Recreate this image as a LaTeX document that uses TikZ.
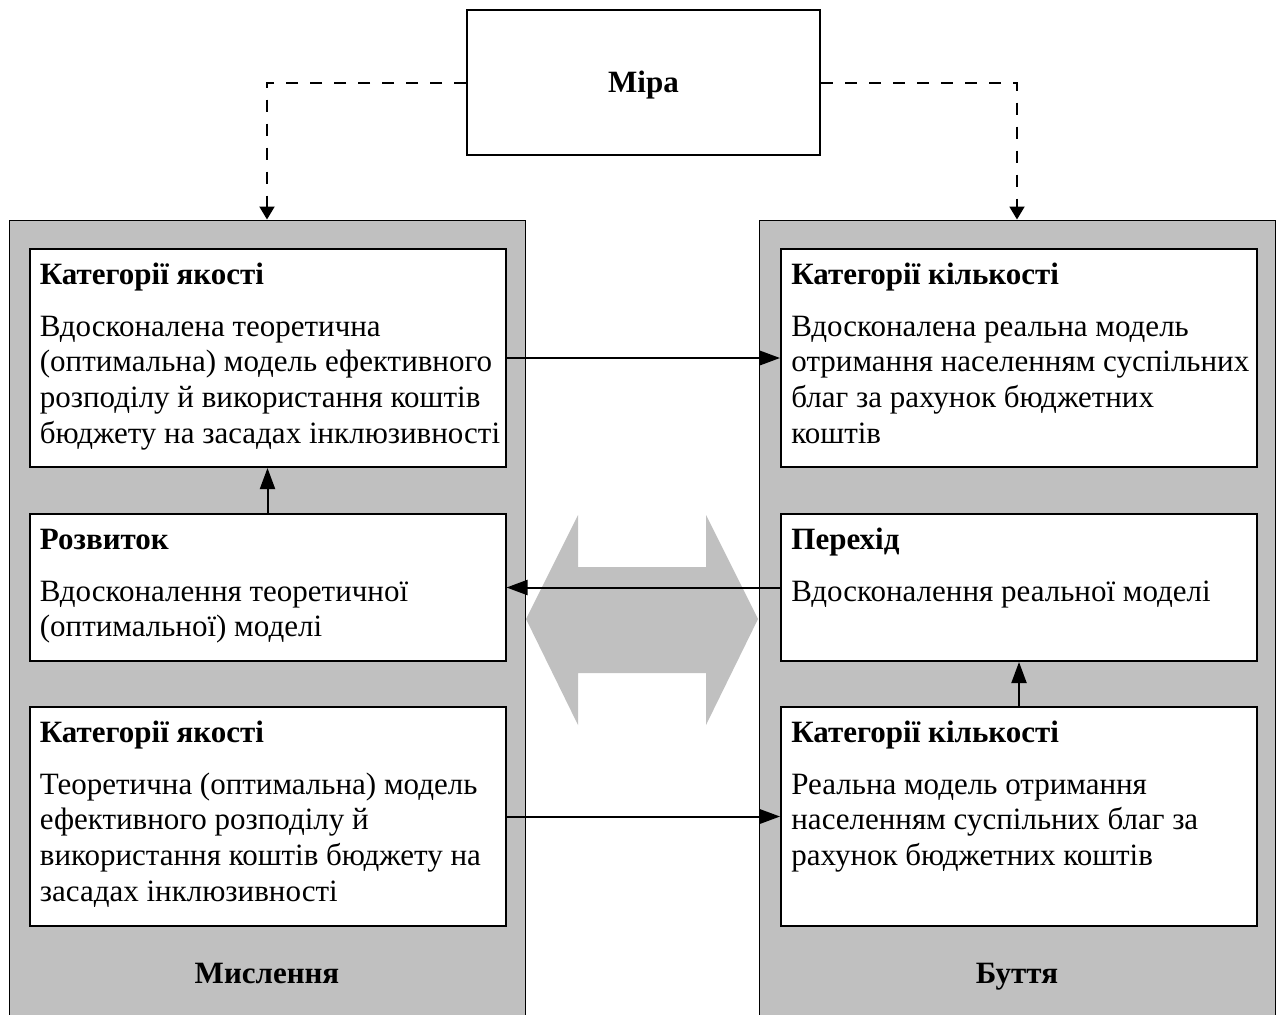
\documentclass[tikz,border=0pt]{standalone}
\usepackage{fontspec}
\setmainfont{Liberation Serif}
\usetikzlibrary{arrows.meta}

\definecolor{panelgray}{RGB}{192,192,192}

\tikzset{
  panel/.style={draw=black, line width=0.5pt, fill=panelgray, inner sep=0pt},
  catbox/.style={draw=black, line width=1pt, fill=white, minimum width=238pt, inner sep=0pt},
  cattext/.style={anchor=north west, align=left, inner sep=0pt, font=\fontsize{15.5pt}{17.85pt}\selectfont},
  caption/.style={anchor=base, inner sep=0pt, font=\fontsize{15.5pt}{17.85pt}\selectfont\bfseries},
  flow/.style={-{Triangle[length=10.5pt,width=7.5pt]}, line width=1pt},
  measure/.style={-{Triangle[length=6.5pt,width=7.5pt]}, line width=1pt, dash pattern=on 6pt off 6pt}
}

\begin{document}
\begin{tikzpicture}[x=0.5pt, y=-0.5pt, line join=miter]
  \clip (0,0) rectangle (1278,1014);

  % panels
  \node[panel, minimum width=258pt, minimum height=400pt] (think) at (267,620) {};
  \node[panel, minimum width=258pt, minimum height=400pt] (being) at (1017,620) {};

  % double arrow between panels
  \fill[panelgray] (526,619) -- (578,515) -- (578,567) -- (706,567) -- (706,515)
    -- (758,619) -- (706,725) -- (706,673) -- (578,673) -- (578,725) -- cycle;

  % measure
  \node[draw=black, line width=1pt, minimum width=176.5pt, minimum height=72.5pt, inner sep=0pt] (mira) at (643.5,82.5) {};
  \node[caption] (miratxt) at (643.5,92) {Міра};

  % boxes, left column
  \node[catbox, minimum height=109pt] (qual2) at (267.5,358) {};
  \node[catbox, minimum height=73.5pt] (devel) at (267.5,587.5) {};
  \node[catbox, minimum height=109.5pt] (qual1) at (267.5,816.5) {};

  % boxes, right column
  \node[catbox, minimum height=109pt] (quan2) at (1019,358) {};
  \node[catbox, minimum height=73.5pt] (trans) at (1019,587.5) {};
  \node[catbox, minimum height=109.5pt] (quan1) at (1019,816.5) {};

  % texts
  \node[cattext] (qual2t) at ([shift={(11,11)}]qual2.north west)
    {\strut\textbf{Категорії якості}\\[8pt]
     Вдосконалена теоретична\\
     (оптимальна) модель ефективного\\
     розподілу й використання коштів\\
     бюджету на засадах інклюзивності};
  \node[cattext] (develt) at ([shift={(11,11)}]devel.north west)
    {\strut\textbf{Розвиток}\\[8pt]
     Вдосконалення теоретичної\\
     (оптимальної) моделі};
  \node[cattext] (qual1t) at ([shift={(11,11)}]qual1.north west)
    {\strut\textbf{Категорії якості}\\[8pt]
     Теоретична (оптимальна) модель\\
     ефективного розподілу й\\
     використання коштів бюджету на\\
     засадах інклюзивності};
  \node[cattext] (quan2t) at ([shift={(11,11)}]quan2.north west)
    {\strut\textbf{Категорії кількості}\\[8pt]
     Вдосконалена реальна модель\\
     отримання населенням суспільних\\
     благ за рахунок бюджетних\\
     коштів};
  \node[cattext] (transt) at ([shift={(11,11)}]trans.north west)
    {\strut\textbf{Перехід}\\[8pt]
     Вдосконалення реальної моделі};
  \node[cattext] (quan1t) at ([shift={(11,11)}]quan1.north west)
    {\strut\textbf{Категорії кількості}\\[8pt]
     Реальна модель отримання\\
     населенням суспільних благ за\\
     рахунок бюджетних коштів};

  % panel captions
  \node[caption] (thinkt) at (267,983) {Мислення};
  \node[caption] (beingt) at (1017,983) {Буття};

  % connectors
  \draw[measure] (mira.west) -| (think.north);
  \draw[measure] (mira.east) -| (being.north);
  \draw[flow] (qual2.east) -- (quan2.west);
  \draw[flow] (qual1.east) -- (quan1.west);
  \draw[flow] (trans.west) -- (devel.east);
  \draw[flow] (devel.north) -- (qual2.south);
  \draw[flow] (quan1.north) -- (trans.south);
\end{tikzpicture}
\end{document}
